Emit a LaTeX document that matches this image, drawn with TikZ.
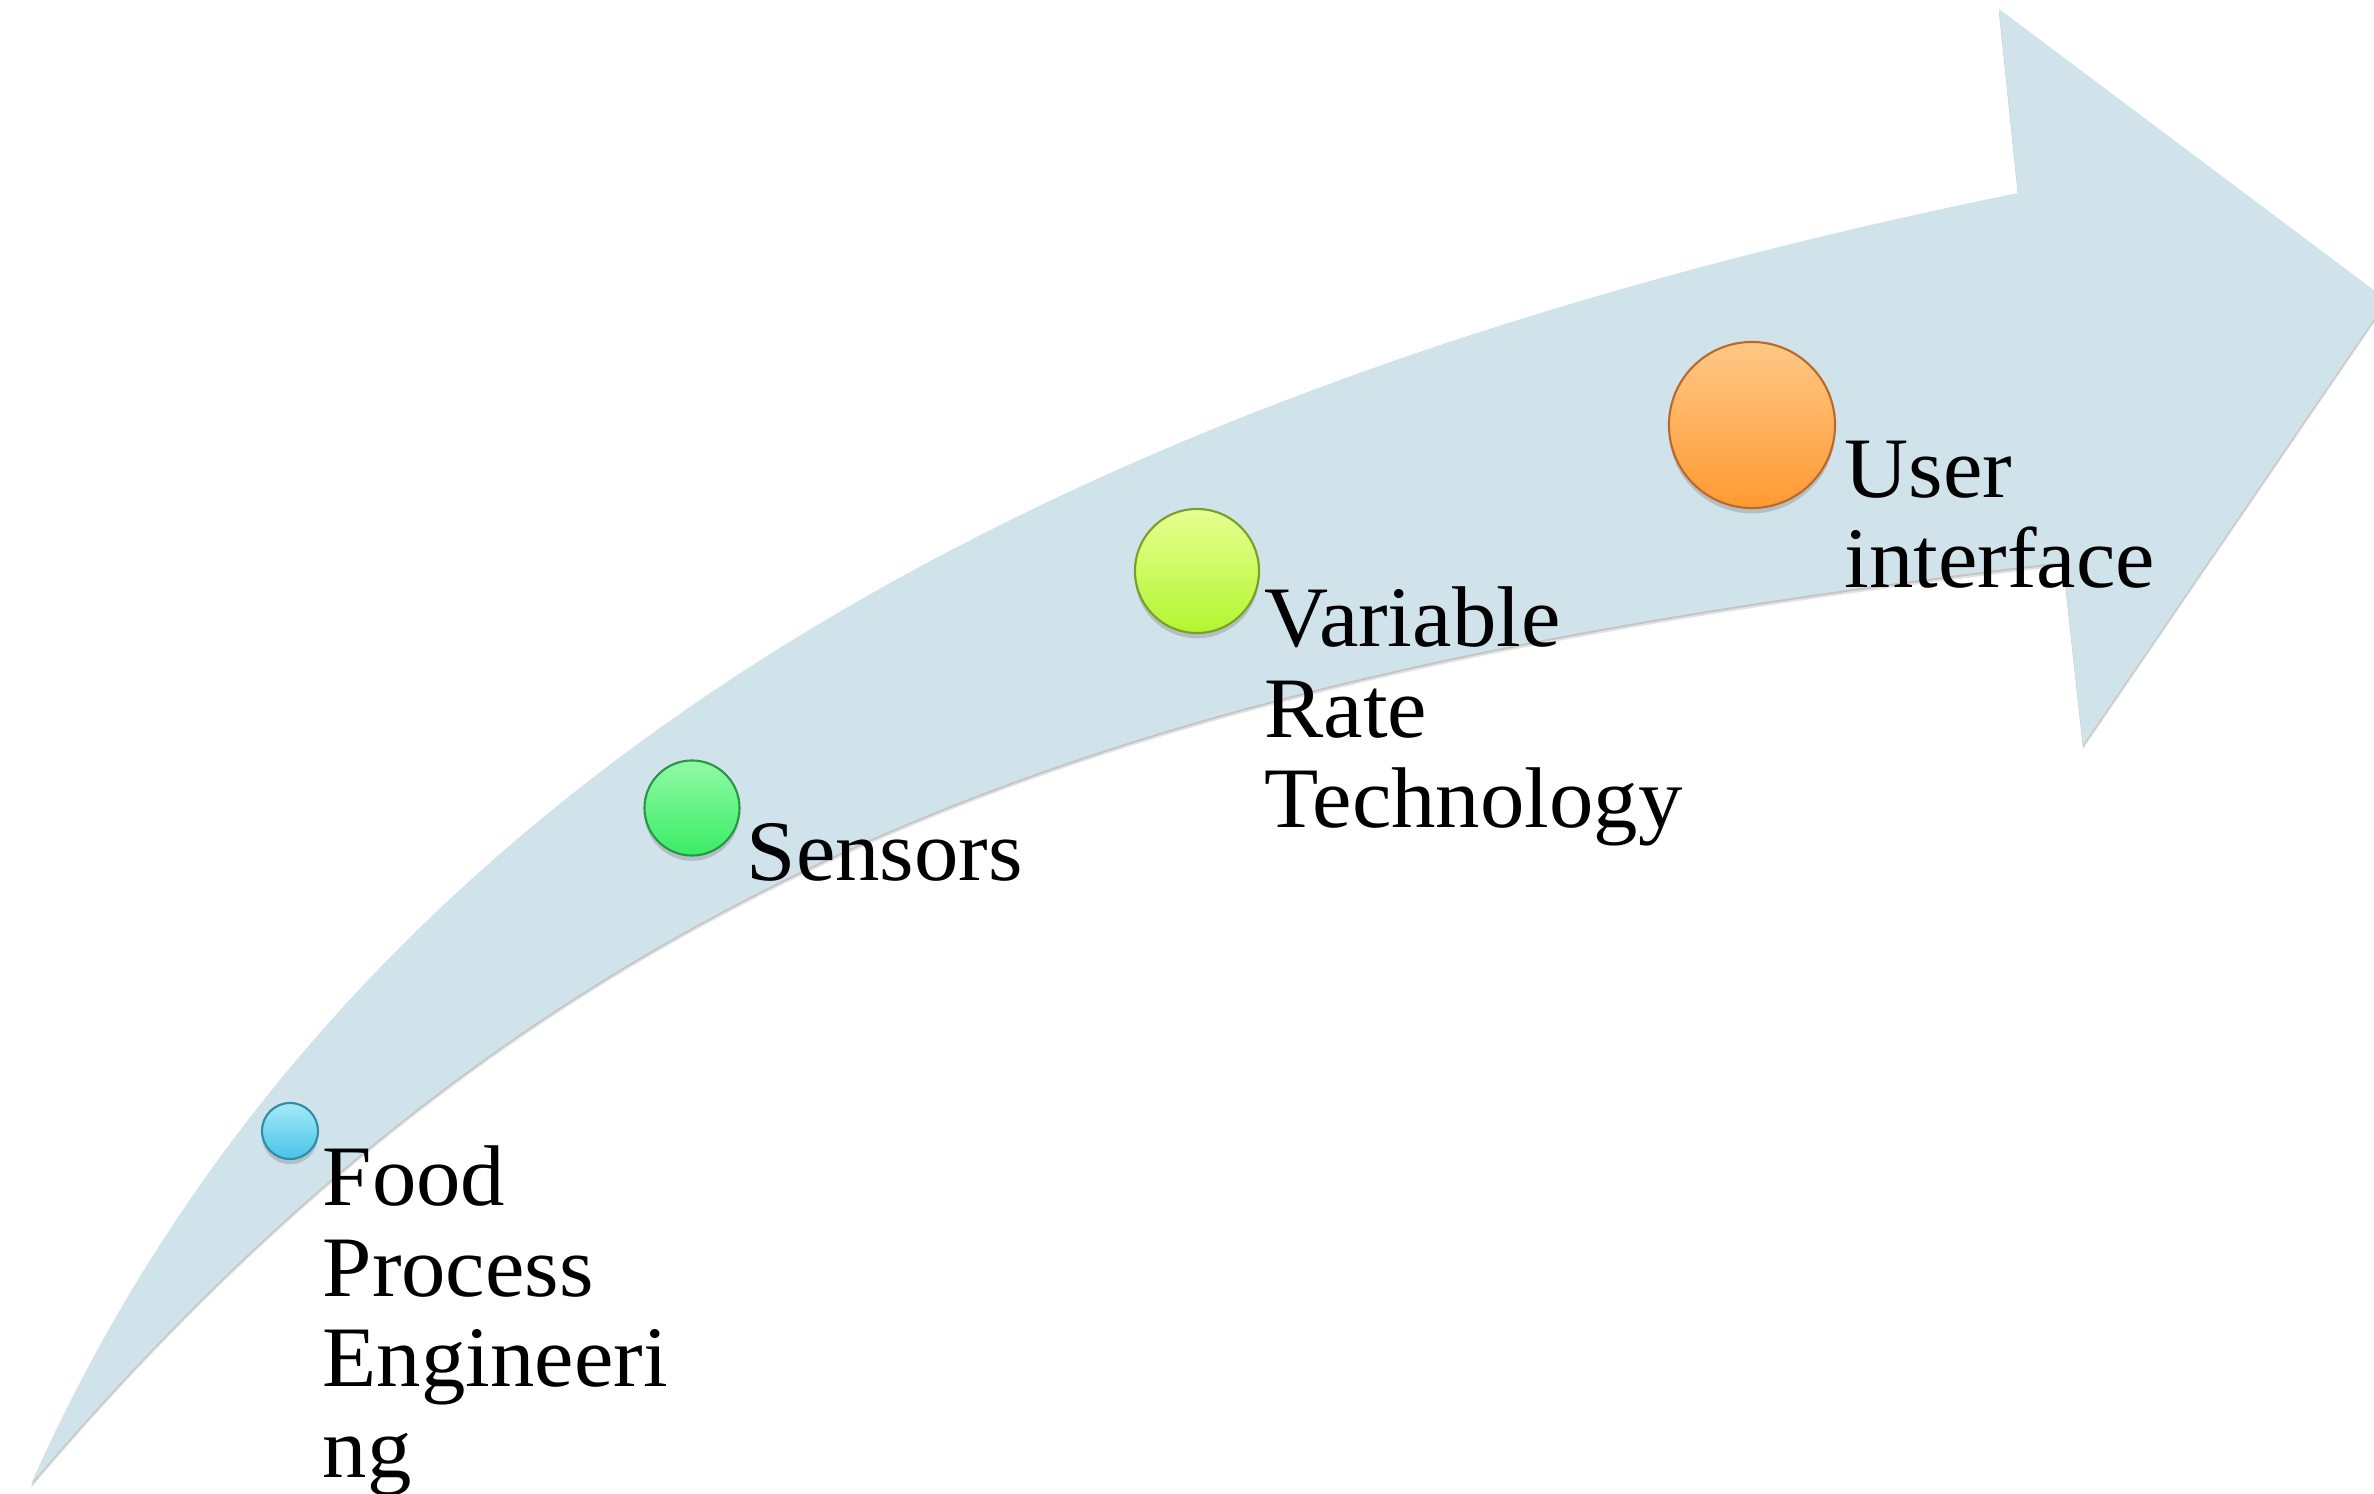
\documentclass[tikz,border=0pt]{standalone}
\usepackage{fontspec}
\setmainfont{Liberation Serif}[FakeStretch=1.03]
\usetikzlibrary{shadows}

\definecolor{band}{RGB}{208,226,234}
\definecolor{cyantop}{RGB}{165,234,250}
\definecolor{cyanbot}{RGB}{72,196,230}
\definecolor{cyanrim}{RGB}{48,140,168}
\definecolor{greentop}{RGB}{145,250,165}
\definecolor{greenbot}{RGB}{58,236,102}
\definecolor{greenrim}{RGB}{40,150,70}
\definecolor{limetop}{RGB}{232,255,145}
\definecolor{limebot}{RGB}{178,245,48}
\definecolor{limerim}{RGB}{120,160,40}
\definecolor{orangetop}{RGB}{255,200,135}
\definecolor{orangebot}{RGB}{255,154,50}
\definecolor{orangerim}{RGB}{185,105,40}

% outline of the curved arrow, in pixel units
\newcommand\bandoutline{(31,1484) .. controls (366,730) and (1140,372) .. (2018,193)
  -- (1999,9) -- (2387,300) -- (2083,745) -- (2063,562)
  .. controls (1155,670) and (577,840) .. (31,1484) -- cycle}

\tikzset{
  dot/.style 2 args={circle, inner sep=0pt, minimum size=#1, line width=.6pt,
    top color=#2top, bottom color=#2bot, draw=#2rim,
    drop shadow={opacity=.35, shadow xshift=0pt, shadow yshift=-1.5pt}},
  lbl/.style={anchor=north west, inner sep=0pt, align=left,
    font=\fontsize{24.5}{25.75}\selectfont}
}

\begin{document}
\begin{tikzpicture}[x=0.01cm, y=-0.01cm]
  \useasboundingbox (0,0) rectangle (2374,1494);
  \clip (0,0) rectangle (2374,1494);
  % arrow with a soft shadow under it
  \fill[black!45, opacity=.25, shift={(0,4)}] \bandoutline;
  \fill[black!45, opacity=.35, shift={(0,2)}] \bandoutline;
  \fill[band] \bandoutline;
  % steps along the arrow
  \node[dot={0.56cm}{cyan}] (food) at (290,1131) {};
  \node[dot={0.95cm}{green}] (sens) at (692,808) {};
  \node[dot={1.24cm}{lime}] (vrt) at (1197,571) {};
  \node[dot={1.66cm}{orange}] (ui) at (1752,425) {};
  \node[lbl] (foodlbl) at (322,1145) {Food\\Process\\Engineeri\\ng};
  \node[lbl] (senslbl) at (746,823) {Sensors};
  \node[lbl] (vrtlbl) at (1264,586) {Variable\\Rate\\Technology};
  \node[lbl] (uilbl) at (1844,440) {User\\interface};
\end{tikzpicture}
\end{document}
